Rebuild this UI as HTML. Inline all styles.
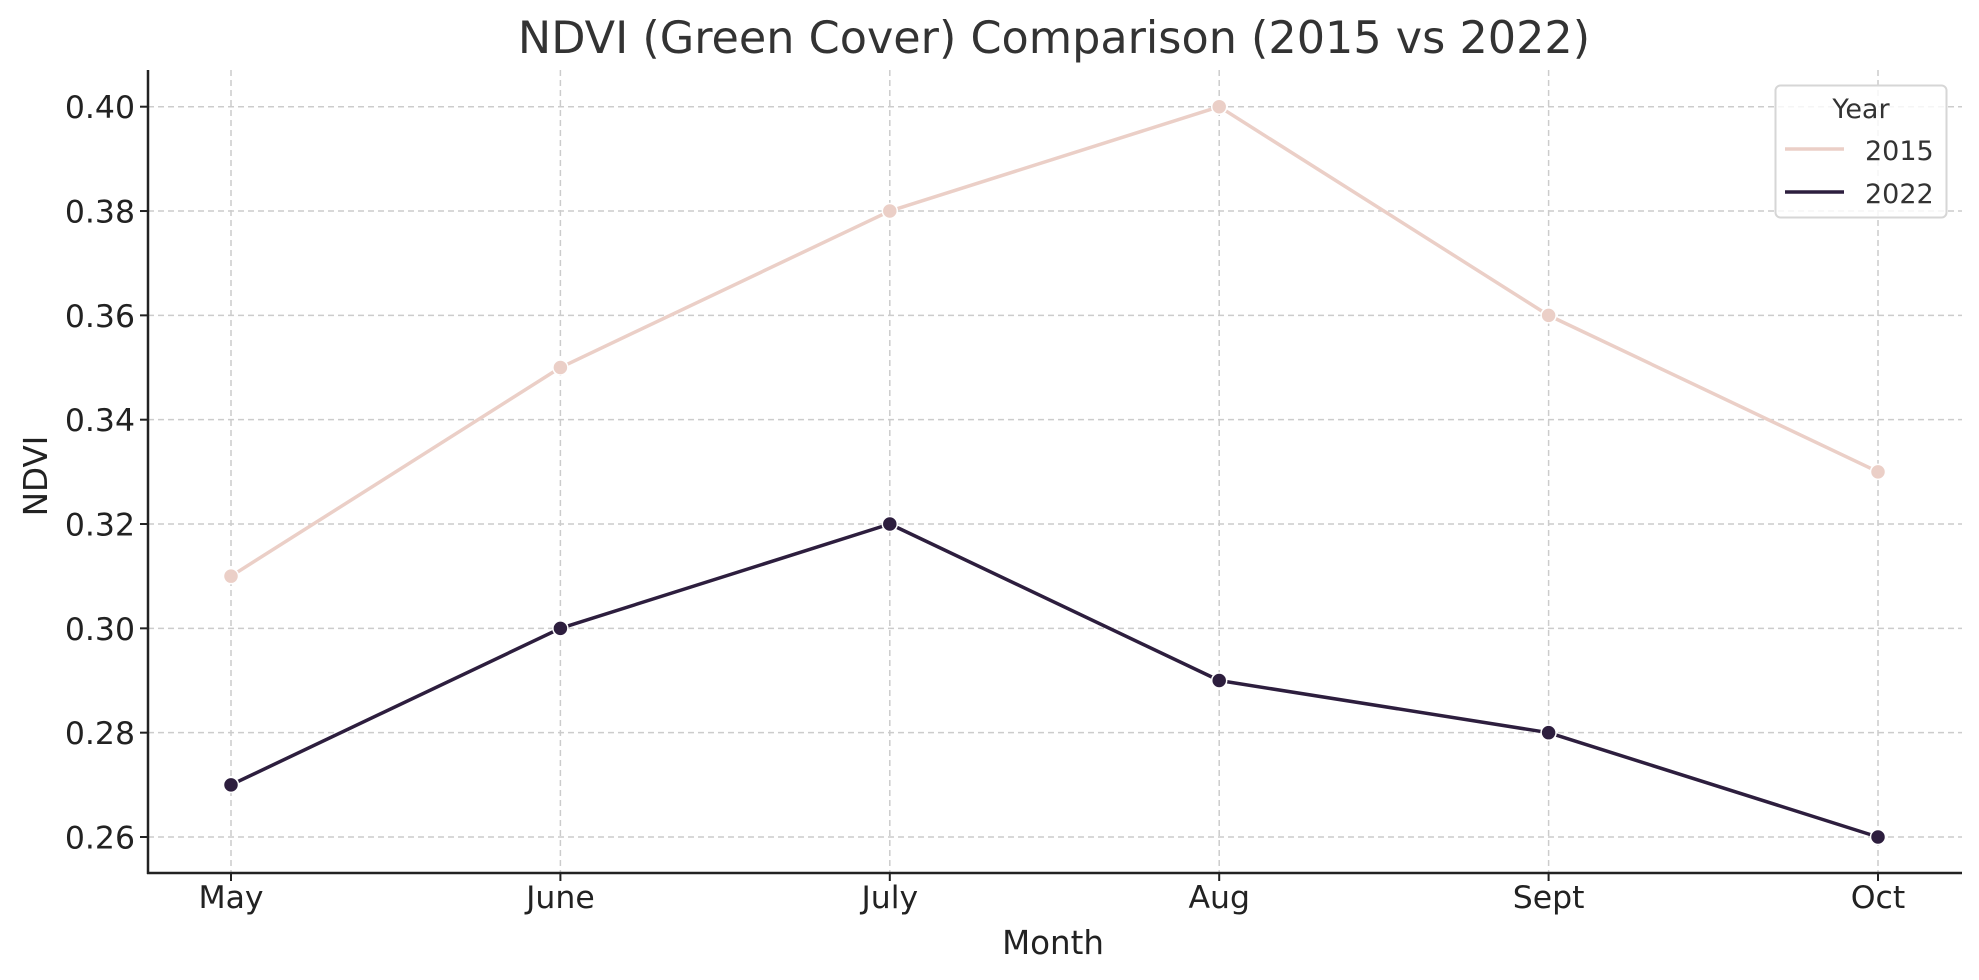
<!DOCTYPE html>
<html><head><meta charset="utf-8"><style>
html,body{margin:0;padding:0;background:#fff;}
svg{display:block;font-family:"DejaVu Sans","Liberation Sans",sans-serif;}
</style></head><body>
<svg id="chart" width="1979" height="980" viewBox="0 0 1979 980" xmlns="http://www.w3.org/2000/svg">
<rect width="1979" height="980" fill="#fff"/>
<text x="1054" y="53" font-size="44.5" fill="#333" text-anchor="middle">NDVI (Green Cover) Comparison (2015 vs 2022)</text>
<g id="grid"></g>
<g id="axes"></g>
<g id="series"></g>
<text x="1053" y="954" font-size="32.5" fill="#222" text-anchor="middle">Month</text>
<text x="0" y="0" font-size="32.5" fill="#222" text-anchor="middle" transform="translate(47,476) rotate(-90)">NDVI</text>
<g>
<rect x="1775.5" y="85.5" width="171" height="132" rx="5" fill="#fff" fill-opacity="0.8" stroke="#d6d6d6" stroke-width="2"/>
<text x="1861" y="118" font-size="27" fill="#333" text-anchor="middle">Year</text>
<line x1="1785" y1="149" x2="1844" y2="149" stroke="#ebcfc7" stroke-width="3.5"/>
<text x="1865" y="160" font-size="27" fill="#333">2015</text>
<line x1="1785" y1="192" x2="1844" y2="192" stroke="#2d1e3e" stroke-width="3.5"/>
<text x="1865" y="203" font-size="27" fill="#333">2022</text>
</g>
</svg>
<script>
const months = ["May","June","July","Aug","Sept","Oct"];
const values2015 = [0.31,0.35,0.38,0.40,0.36,0.33];
const values2022 = [0.27,0.30,0.32,0.29,0.28,0.26];
const yTicks = [0.26,0.28,0.30,0.32,0.34,0.36,0.38,0.40];
const yTickLabels = ["0.26","0.28","0.30","0.32","0.34","0.36","0.38","0.40"];

const NS="http://www.w3.org/2000/svg";
const X0=231, XSTEP=329.4;
function xScale(i){return X0+i*XSTEP;}
function yScale(v){return 106.7+(0.40-v)*(837-106.7)/0.14;}
function mk(tag,attrs,parent){const e=document.createElementNS(NS,tag);for(const k in attrs)e.setAttribute(k,attrs[k]);parent.appendChild(e);return e;}
const grid=document.getElementById('grid'),axes=document.getElementById('axes'),series=document.getElementById('series');
const L=148,R=1962,T=70,B=873;
yTicks.forEach((v,i)=>{
  const y=yScale(v);
  const g=mk('line',{x1:L,x2:R,y1:y,y2:y,stroke:'#cccccc','stroke-width':1.5,'stroke-dasharray':'6,4'},grid);
  
  
  const t=mk('line',{x1:L-8,x2:L,y1:y,y2:y,stroke:'#222','stroke-width':2},axes);
  
  
  const lb=mk('text',{x:L-13,y:y+11.5,'font-size':31.5,fill:'#222','text-anchor':'end'},axes);
  lb.textContent=yTickLabels[i];
  
  
});
months.forEach((m,i)=>{
  const x=xScale(i);
  const g=mk('line',{x1:x,x2:x,y1:T,y2:B,stroke:'#cccccc','stroke-width':1.5,'stroke-dasharray':'6,4'},grid);
  
  
  const t=mk('line',{x1:x,x2:x,y1:B,y2:B+8,stroke:'#222','stroke-width':2},axes);
  
  
  const lb=mk('text',{x:x,y:908,'font-size':31.5,fill:'#222','text-anchor':'middle'},axes);
  lb.textContent=m;
  
  
});
const ya=mk('line',{x1:L,x2:L,y1:T,y2:B+1,stroke:'#222','stroke-width':2.5},axes);


const xa=mk('line',{x1:L-1,x2:R,y1:B,y2:B,stroke:'#222','stroke-width':2.5},axes);


function drawSeries(vals,color,name){
  const pts=vals.map((v,i)=>xScale(i)+','+yScale(v)).join(' ');
  const pl=mk('polyline',{points:pts,fill:'none',stroke:color,'stroke-width':3.5,'stroke-linejoin':'round'},series);
  
  
  vals.forEach((v,i)=>{
    const c=mk('circle',{cx:xScale(i),cy:yScale(v),r:7.5,fill:color,stroke:'#fff','stroke-width':1.5},series);
    
    
  });
}
drawSeries(values2015,'#ebcfc7','2015');
drawSeries(values2022,'#2d1e3e','2022');
</script>
</body></html>
